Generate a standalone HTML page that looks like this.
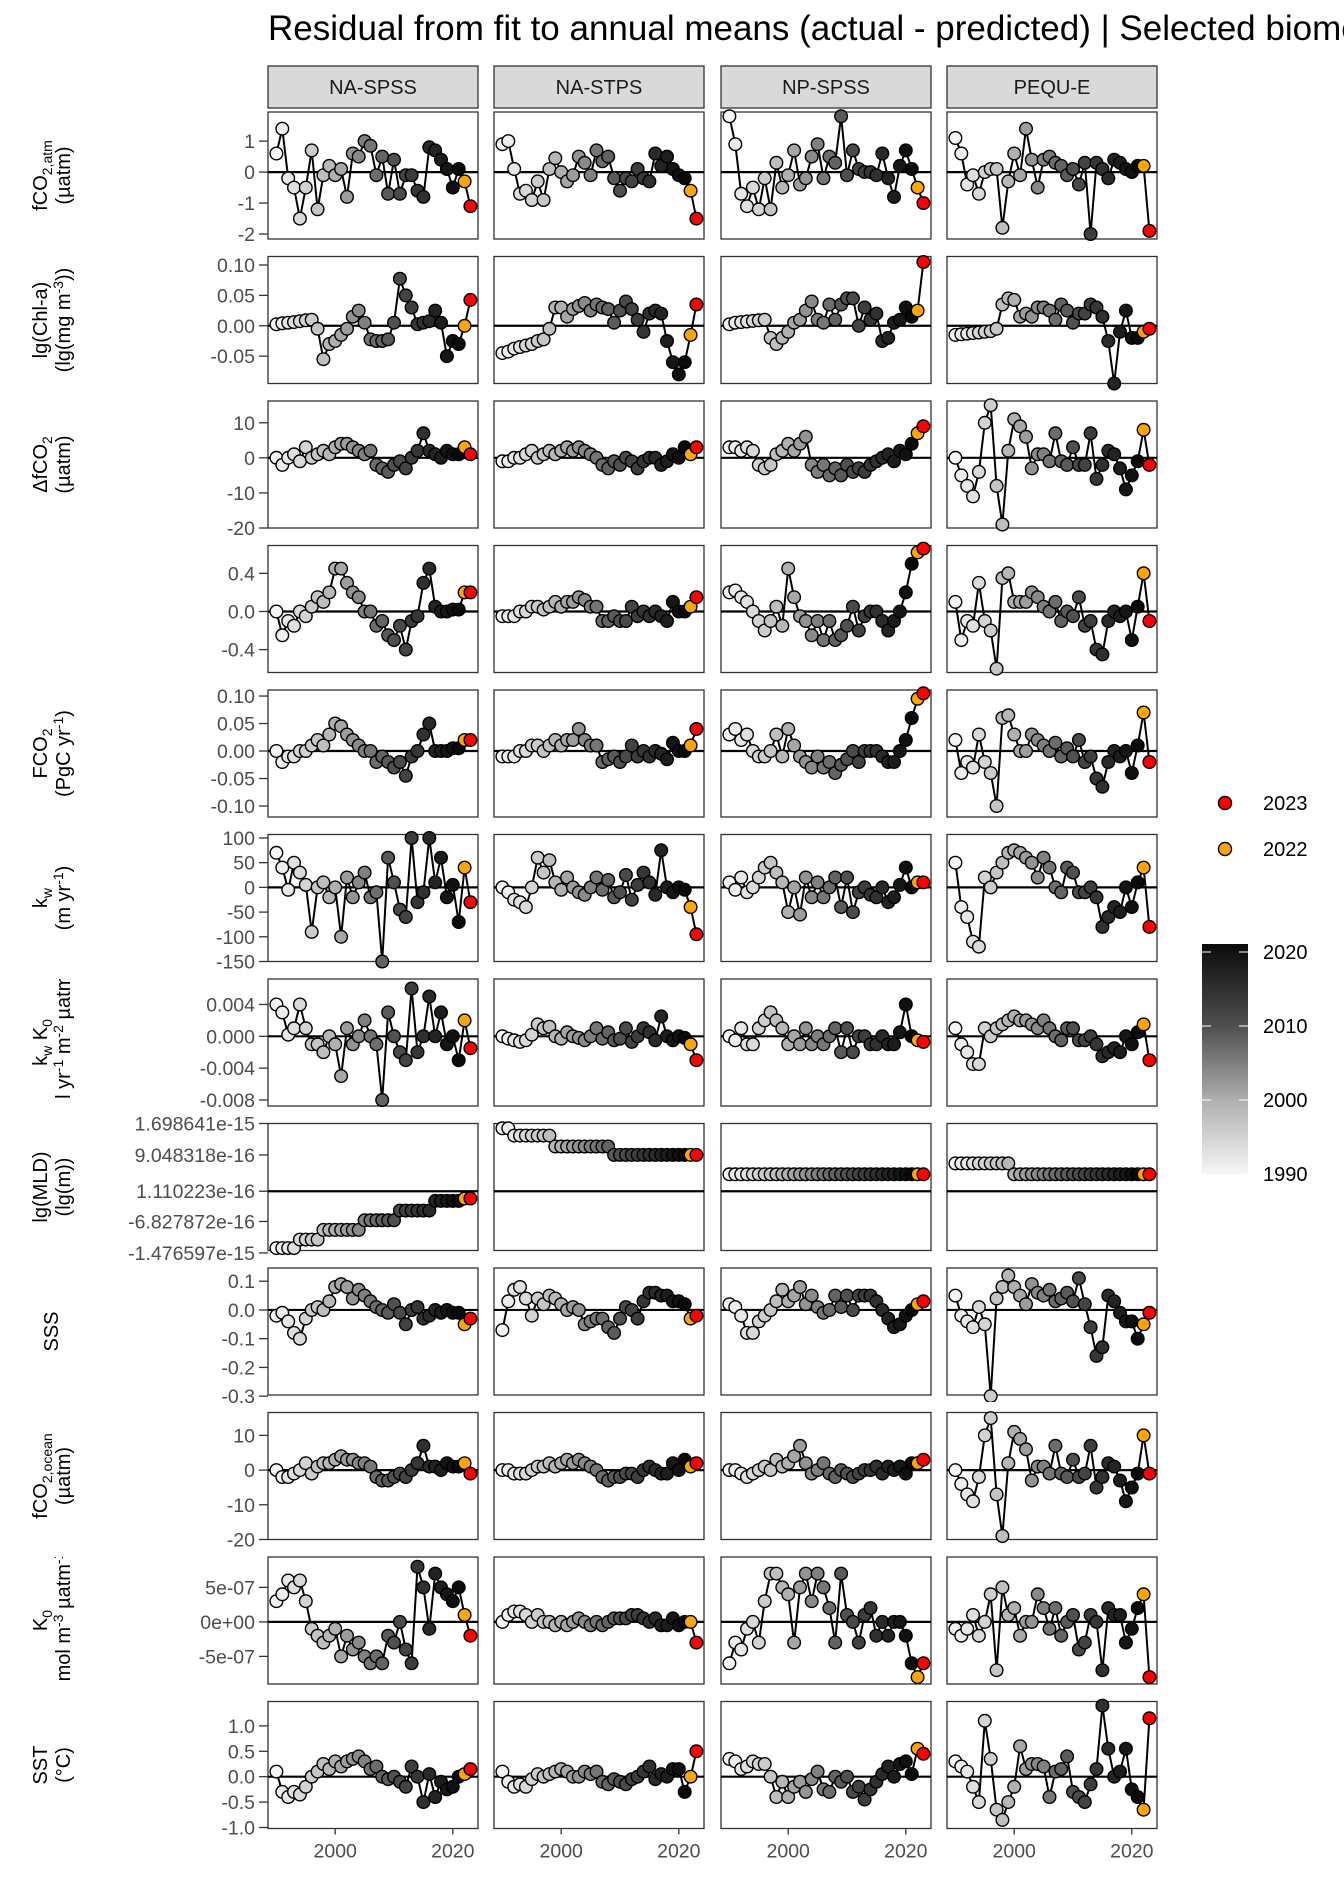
<!DOCTYPE html>
<html><head><meta charset="utf-8"><style>body{margin:0;background:#fff}svg{display:block}</style></head>
<body>
<svg id="s" xmlns="http://www.w3.org/2000/svg" width="1344" height="1881" viewBox="0 0 1344 1881" font-family="Liberation Sans, sans-serif"></svg>
<script>
const S=document.getElementById('s');let h='';
h+='<text x="268" y="40" font-size="35" fill="#000">Residual from fit to annual means (actual - predicted) | Selected biomes</text>';
const PX=[268,494,721,947],PW=210,names=['NA-SPSS','NA-STPS','NP-SPSS','PEQU-E'];
const top0=112,step=144.5,PH=127;
function xOf(p,yr){return PX[p]+8.4+(yr-1990)*5.88;}
function gray(yr){const k=[[1990,245],[2000,176],[2010,80],[2020,16],[2021,10]];if(yr<=1990)return 'rgb(245,245,245)';for(let i=0;i<k.length-1;i++){if(yr<=k[i+1][0]){const t=(yr-k[i][0])/(k[i+1][0]-k[i][0]);const v=Math.round(k[i][1]+t*(k[i+1][1]-k[i][1]));return `rgb(${v},${v},${v})`;}}return 'rgb(10,10,10)';}
function col(yr){return yr==2023?'#ff0000':yr==2022?'#ffa500':gray(yr);}
const rows=[
{r:[-2.16,1.94],t:[[1,'1'],[0,'0'],[-1,'-1'],[-2,'-2']],l1:'fCO<tspan font-size="14" dy="5">2,atm</tspan>',l2:'(µatm)',d:[
[0.6,1.4,-0.2,-0.5,-1.5,-0.5,0.7,-1.2,-0.1,0.2,-0.1,0.1,-0.8,0.6,0.5,1.0,0.85,-0.1,0.5,-0.7,0.4,-0.7,-0.1,-0.1,-0.6,-0.8,0.8,0.7,0.4,0.1,-0.5,0.1,-0.3,-1.1],
[0.9,1.0,0.1,-0.7,-0.6,-0.9,-0.3,-0.9,0.1,0.45,0.0,-0.3,-0.1,0.5,0.3,-0.1,0.7,0.35,0.5,-0.2,-0.6,-0.2,-0.3,0.1,-0.2,-0.3,0.6,0.2,0.5,0.1,-0.1,-0.2,-0.6,-1.5],
[1.8,0.9,-0.7,-1.1,-0.5,-1.2,-0.2,-1.2,0.3,-0.5,-0.1,0.7,-0.4,-0.2,0.5,0.9,-0.2,0.5,0.3,1.8,-0.1,0.7,0.1,0.0,0.0,-0.1,0.6,-0.2,-0.8,0.2,0.7,0.1,-0.5,-1.0],
[1.1,0.6,-0.4,-0.1,-0.7,0.0,0.1,0.1,-1.8,-0.3,0.6,-0.1,1.4,0.4,-0.5,0.4,0.5,0.3,0.2,-0.1,0.1,-0.4,0.3,-2.0,0.3,0.1,-0.2,0.4,0.3,0.1,0.0,0.2,0.2,-1.9]]},
{r:[-0.095,0.114],t:[[0.1,'0.10'],[0.05,'0.05'],[0,'0.00'],[-0.05,'-0.05']],l1:'lg(Chl-a)',l2:'(lg(mg m<tspan font-size="14" dy="-7">-3</tspan><tspan dy="7">))</tspan>',sc:0.05,d:[
[0.0,0.05,0.08,0.1,0.12,0.15,0.18,0.2,-0.1,-1.1,-0.6,-0.5,-0.3,-0.1,0.3,0.5,0.1,-0.45,-0.5,-0.5,-0.45,0.1,1.55,1.0,0.6,0.05,0.1,0.15,0.5,0.1,-1.0,-0.5,-0.6,0.0,0.85],
[-0.9,-0.85,-0.75,-0.7,-0.65,-0.6,-0.5,-0.45,-0.1,0.6,0.6,0.3,0.55,0.65,0.75,0.5,0.7,0.6,0.55,0.1,0.5,0.8,0.55,0.2,-0.2,0.4,0.5,0.4,-0.5,-1.2,-1.6,-1.2,-0.3,0.7],
[0.05,0.1,0.12,0.14,0.16,0.18,0.2,-0.4,-0.6,-0.4,-0.2,0.1,0.2,0.5,0.8,0.2,0.1,0.7,0.2,0.7,0.9,0.9,0.0,0.6,0.2,0.4,-0.5,-0.4,0.1,0.2,0.6,0.3,0.5,2.1],
[-0.3,-0.28,-0.26,-0.24,-0.22,-0.2,-0.18,-0.1,0.7,0.9,0.85,0.3,0.4,0.3,0.6,0.6,0.5,0.2,0.7,0.5,0.1,0.4,0.4,0.7,0.6,0.3,-0.5,-1.9,-0.2,0.5,-0.4,-0.4,-0.2,-0.1]]},
{r:[-20,16.2],t:[[10,'10'],[0,'0'],[-10,'-10'],[-20,'-20']],l1:'ΔfCO<tspan font-size="14" dy="5">2</tspan>',l2:'(µatm)',d:[
[0,-2,0,1,-1,3,0,1,2,1,3,4,4,3,2,1,2,-2,-3,-4,-2,-1,-3,0,2,7,2,1,0,2,1,1,3,1],
[-1,-1,0,0,1,2,0,1,2,1,2,3,2,3,2,1,0,-2,-3,-1,-2,0,-1,-3,-1,0,0,-2,-1,1,0,3,1,3],
[3,3,2,3,2,-2,-3,-2,1,2,4,2,4,6,-2,-4,-2,-5,-3,-5,-2,-4,-3,-4,-2,-1,0,1,-1,2,1,4,7,9],
[0,-5,-8,-11,-4,10,15,-8,-19,2,11,9,6,-3,1,1,-1,7,-1,-2,3,-2,-2,7,-6,-2,2,1,-3,-9,-5,-1,8,-2]]},
{r:[-0.64,0.692],t:[[0.4,'0.4'],[0,'0.0'],[-0.4,'-0.4']],l1:'',l2:'',d:[
[0,-0.25,-0.1,-0.15,0.0,-0.05,0.05,0.15,0.1,0.2,0.45,0.45,0.3,0.2,0.15,0.0,0.0,-0.15,-0.1,-0.25,-0.3,-0.15,-0.4,-0.1,-0.05,0.3,0.45,0.05,0.0,0.0,0.02,0.02,0.2,0.2],
[-0.05,-0.05,-0.05,0.0,0.0,0.05,0.05,0.02,0.05,0.1,0.05,0.1,0.1,0.15,0.12,0.05,0.05,-0.1,-0.1,-0.05,-0.1,-0.1,0.05,-0.05,0.0,-0.05,0.0,-0.05,-0.1,0.1,0.0,0.0,0.05,0.15],
[0.2,0.22,0.15,0.1,0.0,-0.1,-0.2,-0.1,0.05,-0.15,0.45,0.15,-0.05,-0.1,-0.25,-0.1,-0.3,-0.1,-0.3,-0.25,-0.15,0.05,-0.2,-0.05,0.0,0.0,-0.1,-0.2,-0.1,0.0,0.2,0.5,0.62,0.66],
[0.1,-0.3,-0.1,-0.15,0.3,-0.1,-0.2,-0.6,0.35,0.4,0.1,0.1,0.1,0.2,0.15,0.05,0.0,0.1,-0.1,0.0,-0.05,0.15,-0.15,-0.1,-0.4,-0.45,-0.1,0.0,-0.05,0.0,-0.3,0.05,0.4,-0.1]]},
{r:[-0.12,0.111],t:[[0.1,'0.10'],[0.05,'0.05'],[0,'0.00'],[-0.05,'-0.05'],[-0.1,'-0.10']],l1:'FCO<tspan font-size="14" dy="5">2</tspan>',l2:'(PgC yr<tspan font-size="14" dy="-7">-1</tspan><tspan dy="7">)</tspan>',d:[
[0.0,-0.02,-0.01,-0.01,0.0,0.0,0.01,0.02,0.01,0.03,0.05,0.045,0.03,0.02,0.01,0.0,0.0,-0.02,-0.01,-0.02,-0.03,-0.02,-0.045,-0.01,0.0,0.03,0.05,0.0,0.0,0.0,0.005,0.005,0.02,0.02],
[-0.01,-0.01,-0.01,0.0,0.0,0.01,0.01,0.0,0.01,0.02,0.01,0.02,0.02,0.04,0.02,0.01,0.01,-0.02,-0.015,-0.01,-0.02,-0.01,0.01,-0.01,0.0,-0.01,0.0,-0.005,-0.015,0.015,0.0,0.0,0.01,0.04],
[0.03,0.04,0.02,0.03,0.0,-0.01,-0.01,0.0,0.03,-0.01,0.04,0.01,-0.01,-0.02,-0.03,-0.01,-0.03,-0.02,-0.04,-0.025,-0.015,0.0,-0.02,0.0,0.0,0.0,-0.01,-0.02,-0.02,0.0,0.02,0.06,0.095,0.105],
[0.02,-0.04,-0.02,-0.03,0.03,-0.02,-0.04,-0.1,0.06,0.065,0.03,0.0,0.0,0.03,0.02,0.01,0.0,0.015,-0.01,0.005,-0.01,0.02,-0.02,-0.01,-0.05,-0.065,-0.02,0.0,-0.01,0.0,-0.04,0.01,0.07,-0.02]]},
{r:[-150,107],t:[[100,'100'],[50,'50'],[0,'0'],[-50,'-50'],[-100,'-100'],[-150,'-150']],l1:'k<tspan font-size="14" dy="5">w</tspan>',l2:'(m yr<tspan font-size="14" dy="-7">-1</tspan><tspan dy="7">)</tspan>',d:[
[70,40,-5,50,30,5,-90,0,10,-20,0,-100,20,-20,10,30,-20,-10,-150,60,10,-45,-60,100,-30,-10,100,10,60,-20,5,-70,40,-30],
[0,-10,-25,-30,-40,0,60,30,55,10,-5,20,0,-10,-15,0,20,-5,15,-20,-10,25,-25,5,30,10,-15,75,0,-10,0,-5,-40,-95],
[10,-5,20,-10,0,20,40,50,30,10,-50,0,-55,20,-20,10,-20,0,20,-40,20,-50,-10,0,-15,-20,0,-30,-20,5,40,0,10,10],
[50,-40,-60,-110,-120,20,0,30,50,70,75,70,60,50,20,60,40,0,-10,40,30,-10,-10,0,-20,-80,-60,-40,-50,0,-40,10,40,-80]]},
{r:[-8.76,7.2],t:[[4,'0.004'],[0,'0.000'],[-4,'-0.004'],[-8,'-0.008']],l1:'k<tspan font-size="14" dy="5">w</tspan><tspan dy="-5"> K</tspan><tspan font-size="14" dy="5">0</tspan>',l2:'l yr<tspan font-size="14" dy="-7">-1</tspan><tspan dy="7"> m</tspan><tspan font-size="14" dy="-7">-2</tspan><tspan dy="7"> µatm</tspan><tspan font-size="14" dy="-7">-1</tspan>',off2:12,d:[
[4,3,0.2,1,4,1,-1,-1,-2,0,-1,-5,1,-1,0,2,0,-1,-8,3,0,-2,-3,6,-2,0,5,0,3,-1,0,-3,2,-1.5],
[0,-0.3,-0.5,-0.7,-0.5,0.2,1.5,1,1.2,0,-0.3,0.5,0,-0.2,-0.5,0,1,-0.3,0.5,-0.5,-0.3,1,-0.7,0,1,0.5,-0.5,2.5,0,-0.5,0,-0.2,-1,-3],
[0,-0.5,1,-1,-1,1,2,3,2,1,-1,0,-1,1,-1,0,-1,0,1,-2,1,-2,0,0,-1,-1,0,-1,-1,0.5,4,0,-0.5,-0.7],
[1,-1,-2,-3.5,-3.5,1,0,1,1.5,2,2.5,2,2,1.5,1,2,1,0,-0.5,1,1,-0.5,-0.5,0,-1,-2.5,-2,-1.5,-2,0,-1,0.5,1.5,-3]]},
{mld:1,t:[[0,'1.698641e-15'],[26,'9.048318e-16'],[56,'1.110223e-16'],[81,'-6.827872e-16'],[107,'-1.476597e-15']],l1:'lg(MLD)',l2:'(lg(m))',d:[]},
{r:[-2.96,1.46],t:[[1,'0.1'],[0,'0.0'],[-1,'-0.1'],[-2,'-0.2'],[-3,'-0.3']],l1:'SSS',l2:'',d:[
[-0.2,-0.1,-0.4,-0.8,-1.0,-0.3,0.0,0.1,0.0,0.3,0.8,0.9,0.8,0.4,0.7,0.5,0.3,0.1,0.0,-0.1,0.2,-0.1,-0.5,0.0,0.1,-0.3,-0.2,0.0,-0.1,0.0,-0.1,-0.1,-0.5,-0.3],
[-0.7,0.3,0.7,0.8,0.4,-0.2,0.4,0.2,0.5,0.4,0.2,0.0,0.1,0.0,-0.5,-0.4,-0.3,-0.3,-0.6,-0.8,-0.3,0.1,0.0,-0.3,0.3,0.6,0.6,0.5,0.5,0.3,0.3,0.2,-0.3,-0.2],
[0.2,0.1,-0.2,-0.8,-0.8,-0.4,-0.2,0.0,0.3,0.7,0.3,0.5,0.8,0.2,0.5,0.1,-0.1,0.0,0.5,0.1,0.5,0.0,0.5,0.5,0.5,0.3,0.0,-0.3,-0.6,-0.5,-0.2,0.0,0.2,0.3],
[0.5,-0.2,-0.4,-0.6,0.1,-0.5,-3.0,0.4,0.8,1.2,0.8,0.5,0.2,0.9,0.6,0.5,0.7,0.3,0.4,0.6,0.3,1.1,0.2,-0.6,-1.6,-1.3,0.5,0.3,-0.1,-0.4,-0.4,-1.0,-0.5,-0.1]]},
{r:[-20,16.6],t:[[10,'10'],[0,'0'],[-10,'-10'],[-20,'-20']],l1:'fCO<tspan font-size="14" dy="5">2,ocean</tspan>',l2:'(µatm)',d:[
[0,-2,-2,-1,0,2,-1,1,2,2,3,4,3,3,2,2,1,-2,-3,-3,-2,-1,-2,0,2,7,1,1,0,2,1,1,2,-1],
[0,0,-1,-1,-1,0,1,1,2,1,2,3,2,3,2,1,0,-2,-3,-2,-2,-1,-1,-2,0,1,0,-1,-1,2,0,3,1,2],
[0,0,-1,-2,-1,0,1,0,3,1,2,4,7,2,-1,0,2,-1,-2,0,-1,-2,-1,0,0,1,-1,1,0,1,-1,2,2,3],
[0,-4,-7,-9,-2,10,15,-7,-19,2,11,9,6,-3,1,1,-1,7,-1,-2,3,-2,-1,7,-5,-2,2,1,-3,-9,-5,-1,10,-1]]},
{r:[-9.0,9.4],t:[[5,'5e-07'],[0,'0e+00'],[-5,'-5e-07']],l1:'K<tspan font-size="14" dy="5">0</tspan>',l2:'mol m<tspan font-size="14" dy="-7">-3</tspan><tspan dy="7"> µatm</tspan><tspan font-size="14" dy="-7">-1</tspan>',off2:4,d:[
[3,4,6,5,6,3,-1,-2,-3,-2,-1,-5,-2,-4,-3,-5,-6,-5,-6,-2,-3,0,-4,-6,8,5,-1,7,5,4,3,5,1,-2],
[0,1,1.5,1.5,1,0,1,0,0,-0.5,0,-0.5,0,0.5,0,-0.5,0,-0.5,0,0.5,0.5,0.5,1,1,0.5,0,0.5,-0.5,-0.5,0.5,-0.5,0,0,-3],
[-6,-3,-4,-1,0,-3,3,7,7,5,4,-3,5,7,3,7,5,2,-3,7,1,0,-3,1,2,-2,0,-2,0,0,-2,-6,-8,-6],
[-1,-2,-1,1,-2,0,4,-7,5,1,2,-2,0,0,4,2,-1,2,-2,0,1,-4,-3,1,0,-7,2,1,1,-3,-1,2,4,-8]]},
{r:[-1.02,1.48],t:[[1,'1.0'],[0.5,'0.5'],[0,'0.0'],[-0.5,'-0.5'],[-1,'-1.0']],l1:'SST',l2:'(°C)',d:[
[0.1,-0.3,-0.4,-0.3,-0.35,-0.2,0.0,0.1,0.25,0.15,0.3,0.2,0.3,0.35,0.4,0.3,0.15,0.2,0.0,-0.05,0.0,-0.1,-0.2,0.2,0.0,-0.5,0.05,-0.4,-0.1,-0.25,-0.2,0.0,0.05,0.15],
[0.1,-0.1,-0.2,-0.15,-0.2,-0.05,0.05,0.0,0.05,0.1,0.15,0.1,0.0,0.0,0.1,0.05,0.1,-0.1,-0.15,-0.05,-0.1,-0.15,-0.05,0.0,0.1,0.2,-0.05,0.05,0.0,0.15,0.15,-0.3,0.0,0.5],
[0.35,0.3,0.15,0.2,0.3,0.25,0.25,0.0,-0.4,-0.1,-0.4,-0.2,-0.1,-0.3,-0.05,0.1,-0.25,-0.3,0.0,-0.1,0.0,-0.3,-0.2,-0.45,-0.25,-0.1,0.05,0.2,0.0,0.25,0.3,0.05,0.55,0.45],
[0.05,0.3,0.3,0.2,0.1,-0.2,-0.5,1.1,0.35,-0.65,-0.85,-0.5,-0.2,0.6,0.15,0.25,0.25,0.2,-0.4,0.1,0.15,0.4,-0.3,-0.4,-0.5,-0.15,0.15,1.4,0.55,0.0,0.1,0.55,-0.25,-0.4,-0.65,1.15]]}
];
function mldData(p){const a=[];for(let y=1990;y<=2023;y++){let v;
 if(p==0){v=y<1994?103:y<1998?96:y<2005?88:y<2011?80:y<2017?72:y<2022?64:62;}
 else if(p==1){v=y<1992?4:y<1999?10:y<2009?19:26;}
 else if(p==2){v=42;} else {v=y<2000?33:42;} a.push(v);}return a;}
h+='<defs>';rows.forEach((r,i)=>{const t=top0+i*step;h+=`<clipPath id="c${i}"><rect x="0" y="${t}" width="120" height="${PH}"/></clipPath>`;
 PX.forEach((x,p)=>{h+=`<clipPath id="pc${i}_${p}"><rect x="${x-7}" y="${t-7}" width="${PW+14}" height="${PH+14}"/></clipPath>`;});});
h+='</defs>';
PX.forEach((x,p)=>{h+=`<rect x="${x}" y="66" width="${PW}" height="42" fill="#d9d9d9" stroke="#333" stroke-width="1.3"/><text x="${x+PW/2}" y="94" font-size="20" text-anchor="middle" fill="#1a1a1a">${names[p]}</text>`;});
rows.forEach((r,i)=>{
 const t=top0+i*step;
 const sc=r.sc||1;
 const Y=r.mld? (v=>t+v*PH/105) : (v=>t+(r.r[1]-v)/(r.r[1]-r.r[0])*PH);
 r.t.forEach(tk=>{const y=Y(tk[0]);h+=`<line x1="259" x2="268" y1="${y}" y2="${y}" stroke="#333" stroke-width="1.3"/><text x="255" y="${y+7}" font-size="19.5" text-anchor="end" fill="#4d4d4d">${tk[1]}</text>`;});
 const cy=t+PH/2;
 h+=`<g clip-path="url(#c${i})">`;
 if(r.l1&&!r.l2){h+=`<text transform="translate(58,${cy}) rotate(-90)" font-size="20" text-anchor="middle" fill="#000">${r.l1}</text>`;}
 else if(r.l1){h+=`<text transform="translate(47,${cy}) rotate(-90)" font-size="20" text-anchor="middle" fill="#000">${r.l1}</text><text transform="translate(70,${cy-(r.off2||0)}) rotate(-90)" font-size="20" text-anchor="middle" fill="#000">${r.l2}</text>`;}
 h+='</g>';
 for(let p=0;p<4;p++){
  const x0=PX[p];
  h+=`<rect x="${x0}" y="${t}" width="${PW}" height="${PH}" fill="#fff" stroke="#333" stroke-width="1.3"/>`;
  const zy=r.mld?Y(56):Y(0);
  h+=`<line x1="${x0}" x2="${x0+PW}" y1="${zy}" y2="${zy}" stroke="#000" stroke-width="2.2"/>`;
  let d=r.mld?mldData(p):r.d[p].map(v=>v*sc);if(d.length>34)d=d.slice(d.length-34);const n=d.length;
  const pts=d.map((v,k)=>{const yr=2024-n+k;return [xOf(p,yr),Y(v),yr];});
  h+=`<g clip-path="url(#pc${i}_${p})"><polyline points="${pts.map(q=>q[0].toFixed(1)+','+q[1].toFixed(1)).join(' ')}" fill="none" stroke="#000" stroke-width="2"/>`;
  pts.forEach(q=>{h+=`<circle cx="${q[0].toFixed(1)}" cy="${q[1].toFixed(1)}" r="6.3" fill="${col(q[2])}" stroke="#000" stroke-width="1.4"/>`;});
  h+='</g>';
 }
});
const by=top0+11*step+PH;
PX.forEach((x,p)=>{[2000,2020].forEach(yr=>{const xx=xOf(p,yr);h+=`<line x1="${xx}" x2="${xx}" y1="${by}" y2="${by+6}" stroke="#333" stroke-width="1.3"/><text x="${xx}" y="${by+29}" font-size="19.5" text-anchor="middle" fill="#4d4d4d">${yr}</text>`;});});
h+=`<circle cx="1225" cy="803" r="6.5" fill="#ff0000" stroke="#000" stroke-width="1.4"/><text x="1263" y="810" font-size="20">2023</text>`;
h+=`<circle cx="1225" cy="849" r="6.5" fill="#ffa500" stroke="#000" stroke-width="1.4"/><text x="1263" y="856" font-size="20">2022</text>`;
h+=`<defs><linearGradient id="g" x1="0" y1="1" x2="0" y2="0"><stop offset="0" stop-color="#f7f7f7"/><stop offset="0.32" stop-color="#b0b0b0"/><stop offset="0.64" stop-color="#505050"/><stop offset="0.97" stop-color="#101010"/><stop offset="1" stop-color="#0a0a0a"/></linearGradient></defs>`;
h+=`<rect x="1202" y="944" width="46" height="231" fill="url(#g)"/>`;
[[2020,952],[2010,1026],[2000,1100],[1990,1174]].forEach(a=>{h+=`<line x1="1202" x2="1211" y1="${a[1]}" y2="${a[1]}" stroke="#fff" stroke-width="1"/><line x1="1239" x2="1248" y1="${a[1]}" y2="${a[1]}" stroke="#fff" stroke-width="1"/><text x="1263" y="${a[1]+7}" font-size="20">${a[0]}</text>`;});
S.innerHTML=h;
</script>
</body></html>
